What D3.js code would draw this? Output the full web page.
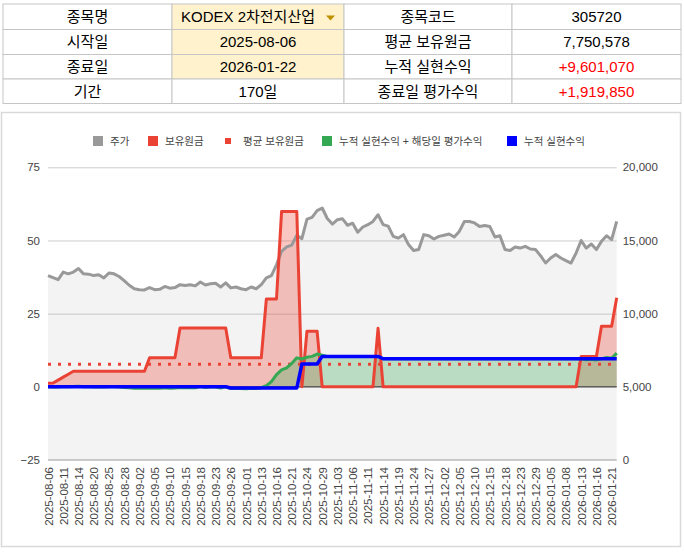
<!DOCTYPE html>
<html>
<head>
<meta charset="utf-8">
<script src="https://d3js.org/d3.v7.min.js"></script>
<style>
  body { margin: 0; background: #fff; }
  svg text { font-family: Arial, "Liberation Sans", "Noto Sans CJK KR", sans-serif; }
</style>
</head>
<body>
<svg id="chart" width="684" height="560"></svg>
<script>
// 상단 정보 표
const infoRows = [
  ["종목명", "KODEX 2차전지산업", "종목코드", "305720"],
  ["시작일", "2025-08-06", "평균 보유원금", "7,750,578"],
  ["종료일", "2026-01-22", "누적 실현수익", "+9,601,070"],
  ["기간", "170일", "종료일 평가수익", "+1,919,850"]
];

// 거래일
const dates = [
  "2025-08-06","2025-08-07","2025-08-08","2025-08-11","2025-08-12","2025-08-13","2025-08-14","2025-08-18","2025-08-19","2025-08-20",
  "2025-08-21","2025-08-22","2025-08-25","2025-08-26","2025-08-27","2025-08-28","2025-08-29","2025-09-01","2025-09-02","2025-09-03",
  "2025-09-04","2025-09-05","2025-09-08","2025-09-09","2025-09-10","2025-09-11","2025-09-12","2025-09-15","2025-09-16","2025-09-17",
  "2025-09-18","2025-09-19","2025-09-22","2025-09-23","2025-09-24","2025-09-25","2025-09-26","2025-09-29","2025-09-30","2025-10-01",
  "2025-10-02","2025-10-10","2025-10-13","2025-10-14","2025-10-15","2025-10-16","2025-10-17","2025-10-20","2025-10-21","2025-10-22",
  "2025-10-23","2025-10-24","2025-10-27","2025-10-28","2025-10-29","2025-10-30","2025-10-31","2025-11-03","2025-11-04","2025-11-05",
  "2025-11-06","2025-11-07","2025-11-10","2025-11-11","2025-11-12","2025-11-13","2025-11-14","2025-11-17","2025-11-18","2025-11-19",
  "2025-11-20","2025-11-21","2025-11-24","2025-11-25","2025-11-26","2025-11-27","2025-11-28","2025-12-01","2025-12-02","2025-12-03",
  "2025-12-04","2025-12-05","2025-12-08","2025-12-09","2025-12-10","2025-12-11","2025-12-12","2025-12-15","2025-12-16","2025-12-17",
  "2025-12-18","2025-12-19","2025-12-22","2025-12-23","2025-12-24","2025-12-26","2025-12-29","2025-12-30","2026-01-02","2026-01-05",
  "2026-01-06","2026-01-07","2026-01-08","2026-01-09","2026-01-12","2026-01-13","2026-01-14","2026-01-15","2026-01-16","2026-01-19",
  "2026-01-20","2026-01-21","2026-01-22"
];

// 주가 (원, 오른쪽 축)
const price = [
  12600,12460,12320,12840,12720,12840,13080,12720,12700,12600,
  12660,12440,12780,12720,12540,12260,11940,11700,11640,11620,
  11780,11640,11660,11860,11740,11780,11980,11920,11980,11900,
  12160,11960,12040,12080,11820,12100,11760,11820,11700,11640,
  11820,11700,11980,12440,12600,13340,14260,14560,14680,15360,
  15120,16460,16580,17040,17220,16500,16120,16420,16480,16040,
  16180,15560,15920,16080,16300,16760,16080,15980,15280,15160,
  15400,14720,14320,14380,15400,15320,15100,15280,15360,15440,
  15240,15620,16300,16300,16200,15960,16020,15960,15240,15320,
  14380,14320,14560,14480,14600,14420,14380,13960,13460,13800,
  14040,13800,13620,13460,14140,15000,14480,14760,14380,14940,
  15320,15060,16300
];

// 보유원금 (백만원, 왼쪽 축)
const principal = [
  1.2,1.3,2.3,3.3,4.3,5.3,5.3,5.3,5.3,5.3,
  5.3,5.3,5.3,5.3,5.3,5.3,5.3,5.3,5.3,5.3,
  9.9,9.9,9.9,9.9,9.9,9.9,20.1,20.1,20.1,20.1,
  20.1,20.1,20.1,20.1,20.1,20.1,9.9,9.9,9.9,9.9,
  9.9,9.9,9.9,30.0,30.0,30.0,59.9,59.9,59.9,59.9,
  0,19.0,19.0,19.0,0,0,0,0,0,0,
  0,0,0,0,0,20.0,0,0,0,0,
  0,0,0,0,0,0,0,0,0,0,
  0,0,0,0,0,0,0,0,0,0,
  0,0,0,0,0,0,0,0,0,0,
  0,0,0,0,0,10.4,10.4,10.4,10.4,20.7,
  20.7,20.7,30.4
];

// 평균 보유원금 (백만원)
const avgPrincipal = 7.750578;

// 누적 실현수익 + 해당일 평가수익 (백만원)
const totalProfit = [
  0,-0.05,-0.1,0.1,0.05,0.1,0.2,0,0,-0.05,
  0,-0.1,0.05,0,-0.1,-0.2,-0.35,-0.45,-0.5,-0.5,
  -0.4,-0.5,-0.5,-0.3,-0.45,-0.4,-0.2,-0.3,-0.2,-0.3,
  0.1,-0.2,-0.1,-0.05,-0.4,0,-0.6,-0.5,-0.6,-0.7,
  -0.5,-0.6,-0.3,0.4,1.8,4.2,5.8,6.5,8.0,9.9,
  9.5,10.1,10.4,11.2,10.8,10.4,10.4,10.4,10.4,10.4,
  10.4,10.4,10.4,10.4,10.4,10.4,9.6,9.6,9.6,9.6,
  9.6,9.6,9.6,9.6,9.6,9.6,9.6,9.6,9.6,9.6,
  9.6,9.6,9.6,9.6,9.6,9.6,9.6,9.6,9.6,9.6,
  9.6,9.6,9.6,9.6,9.6,9.6,9.6,9.6,9.6,9.6,
  9.6,9.6,9.6,9.6,9.6,9.6,9.25,9.45,9.2,9.55,
  10.05,9.75,11.52
];

// 누적 실현수익 (백만원)
const realized = [
  0,0,0,0,0,0,0,0,0,0,
  0,0,0,0,0,0,0,0,0,0,
  0,0,0,0,0,0,0,0,0,0,
  0,0,0,0,0,0,-0.4,-0.4,-0.4,-0.4,
  -0.4,-0.4,-0.4,-0.4,-0.4,-0.4,-0.4,-0.4,-0.4,-0.4,
  7.8,7.8,7.8,7.8,10.4,10.4,10.4,10.4,10.4,10.4,
  10.4,10.4,10.4,10.4,10.4,10.4,9.6,9.6,9.6,9.6,
  9.6,9.6,9.6,9.6,9.6,9.6,9.6,9.6,9.6,9.6,
  9.6,9.6,9.6,9.6,9.6,9.6,9.6,9.6,9.6,9.6,
  9.6,9.6,9.6,9.6,9.6,9.6,9.6,9.6,9.6,9.6,
  9.6,9.6,9.6,9.6,9.6,9.6,9.6,9.6,9.6,9.6,
  9.6,9.6,9.6
];

const leftTicks  = [-25, 0, 25, 50, 75];
const rightTicks = [0, 5000, 10000, 15000, 20000];

const legendItems = [
  { name: "주가", color: "#999999", size: 10 },
  { name: "보유원금", color: "#ea4335", size: 10 },
  { name: "평균 보유원금", color: "#ea4335", size: 6 },
  { name: "누적 실현수익 + 해당일 평가수익", color: "#34a853", size: 10 },
  { name: "누적 실현수익", color: "#0000ff", size: 10 }
];

const svg = d3.select("#chart");

// ---------- 표 ----------
const colX = [3, 172, 344, 512, 681],
      rowY = [4, 29.5, 54.5, 79, 103.5];
const table = svg.append("g");
infoRows.forEach((row, r) => {
  row.forEach((txt, c) => {
    table.append("rect")
      .attr("x", colX[c]).attr("y", rowY[r])
      .attr("width", colX[c + 1] - colX[c]).attr("height", rowY[r + 1] - rowY[r])
      .attr("fill", (c === 1 && r < 3) ? "#fff2cc" : "#fff")
      .attr("stroke", "#c6c6c6").attr("stroke-width", 1);
    table.append("text")
      .attr("x", (colX[c] + colX[c + 1]) / 2 - (c === 1 && r === 0 ? 10 : 0))
      .attr("y", (rowY[r] + rowY[r + 1]) / 2)
      .attr("dy", "0.36em")
      .attr("text-anchor", "middle")
      .attr("font-size", 15)
      .attr("fill", txt.startsWith("+") ? "#ff0000" : "#000")
      .text(txt);
  });
});
// 드롭다운 표시
table.append("path")
  .attr("d", "M326,15.5 L335,15.5 L330.5,20.5 Z")
  .attr("fill", "#bf9000");

// ---------- 차트 프레임 ----------
svg.append("rect")
  .attr("x", 1.5).attr("y", 112.5).attr("width", 679).attr("height", 434)
  .attr("fill", "#fff").attr("stroke", "#d9d9d9").attr("stroke-width", 1.5);

const LEFT = 48, RIGHT = 616.7, TOP = 167.3, BOTTOM = 460;

const x = d3.scalePoint().domain(dates).range([LEFT, RIGHT]);
const yL = d3.scaleLinear().domain([-25, 75]).range([BOTTOM, TOP]);
const yR = d3.scaleLinear().domain([0, 20000]).range([BOTTOM, TOP]);

// 그리드
const grid = svg.append("g")
  .attr("transform", `translate(${LEFT},0)`)
  .call(d3.axisLeft(yL).tickValues(leftTicks.filter(d => d > -25)).tickSize(-(RIGHT - LEFT)).tickFormat(""));
grid.select(".domain").remove();
grid.selectAll("line").attr("stroke", "#cccccc").attr("stroke-width", 1);

svg.append("line")
  .attr("x1", LEFT).attr("x2", RIGHT)
  .attr("y1", yL(-25)).attr("y2", yL(-25))
  .attr("stroke", "#cccccc").attr("stroke-width", 2);

// 영역
const idx = d3.range(dates.length);
const areaGen = (vals, y, base) => d3.area()
  .x(i => x(dates[i]))
  .y0(base)
  .y1(i => y(vals[i]))(idx);
const lineGen = (vals, y) => d3.line()
  .x(i => x(dates[i]))
  .y(i => y(vals[i]))(idx);

svg.append("path").attr("d", areaGen(price, yR, yR(0)))
  .attr("fill", "#999999").attr("fill-opacity", 0.12);
svg.append("path").attr("d", areaGen(principal, yL, yL(0)))
  .attr("fill", "#ea4335").attr("fill-opacity", 0.3);
svg.append("path").attr("d", areaGen(totalProfit, yL, yL(0)))
  .attr("fill", "#34a853").attr("fill-opacity", 0.3);

// 기준선 (0)
svg.append("line")
  .attr("x1", LEFT).attr("x2", RIGHT)
  .attr("y1", yL(0)).attr("y2", yL(0))
  .attr("stroke", "#333333").attr("stroke-width", 1);

// 선
const lines = [
  { vals: price, y: yR, color: "#999999", w: 3 },
  { vals: principal, y: yL, color: "#ea4335", w: 3 },
  { vals: totalProfit, y: yL, color: "#34a853", w: 3 },
  { vals: realized, y: yL, color: "#0000ff", w: 3.5 }
];
lines.forEach((s, k) => {
  if (k === 2) {
    // 평균 보유원금 점선
    svg.append("line")
      .attr("x1", LEFT).attr("x2", RIGHT)
      .attr("y1", yL(avgPrincipal)).attr("y2", yL(avgPrincipal))
      .attr("stroke", "#ea4335").attr("stroke-width", 3)
      .attr("stroke-dasharray", "3,7");
  }
  svg.append("path").attr("d", lineGen(s.vals, s.y))
    .attr("fill", "none").attr("stroke", s.color)
    .attr("stroke-width", s.w).attr("stroke-linejoin", "round");
});

// 축
const axL = svg.append("g").attr("transform", `translate(${LEFT},0)`)
  .call(d3.axisLeft(yL).tickValues(leftTicks).tickSize(0).tickPadding(8));
const axR = svg.append("g").attr("transform", `translate(${RIGHT},0)`)
  .call(d3.axisRight(yR).tickValues(rightTicks).tickSize(0).tickPadding(6).tickFormat(d3.format(",")));
const axX = svg.append("g").attr("transform", `translate(0,${BOTTOM})`)
  .call(d3.axisBottom(x).tickValues(dates.filter((d, i) => i % 3 === 0)).tickSize(0));

[axL, axR, axX].forEach(g => {
  g.select(".domain").remove();
  g.selectAll("text").attr("font-size", 11.5).attr("fill", "#444")
    .style("font-family", "Arial, 'Liberation Sans', sans-serif");
});
axX.selectAll("text")
  .attr("transform", "rotate(-90)")
  .attr("text-anchor", "end")
  .attr("x", -7).attr("y", 0).attr("dy", "0.35em");

// 범례
const legX = [93, 148, 223, 322, 507];
const leg = svg.append("g");
legendItems.forEach((d, i) => {
  leg.append("rect")
    .attr("x", legX[i] + (10 - d.size) / 2).attr("y", 141 - d.size / 2)
    .attr("width", d.size).attr("height", d.size)
    .attr("fill", d.color);
  leg.append("text")
    .attr("x", legX[i] + (i === 2 ? 20 : 17)).attr("y", 141).attr("dy", "0.35em")
    .attr("font-size", 10.5).attr("fill", "#444")
    .text(d.name);
});
</script>
</body>
</html>
